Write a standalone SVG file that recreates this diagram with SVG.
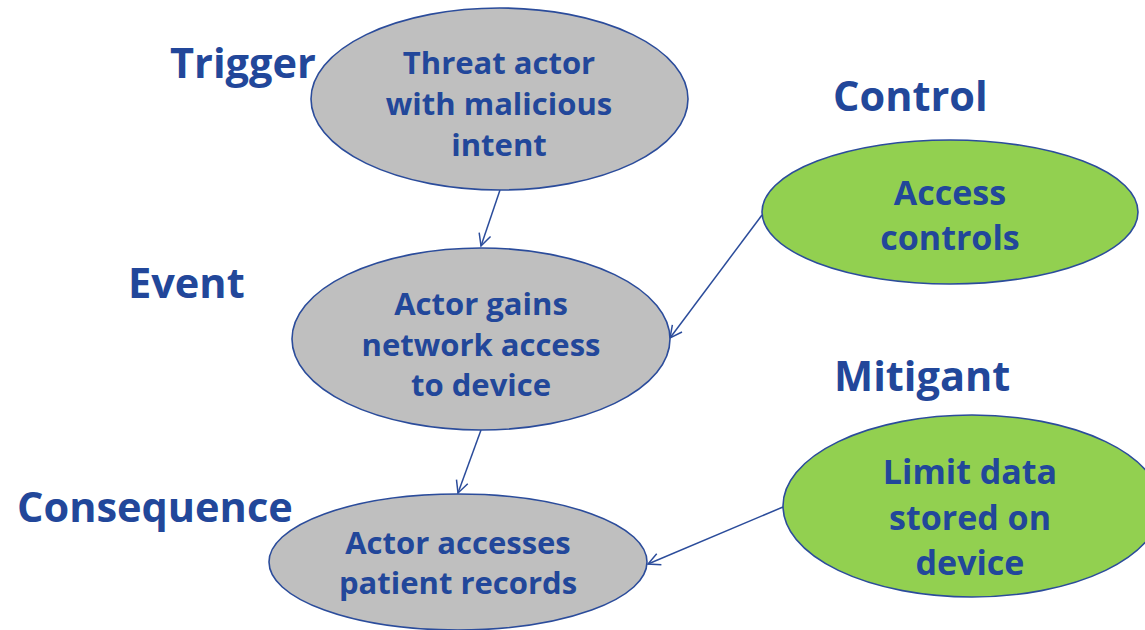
<svg xmlns="http://www.w3.org/2000/svg" width="1145" height="630" viewBox="0 0 1145 630">
<defs>
<style>
.g{fill:#BFBFBF;stroke:#2B4C9B;stroke-width:1.6}
.gr{fill:#92D050;stroke:#2B4C9B;stroke-width:1.6}
.t{font-family:"Open Sans",Lato,sans-serif;font-weight:bold;fill:#22479A;text-anchor:middle}
.n{font-size:31px}
.m{font-size:34px}
.l{font-family:"Open Sans",Lato,sans-serif;font-weight:bold;fill:#22479A;font-size:41.5px}
.c{stroke:#2B4C9B;stroke-width:1.5;fill:none;marker-end:url(#a)}
</style>
<marker id="a" markerWidth="16" markerHeight="16" refX="14" refY="8" orient="auto" markerUnits="userSpaceOnUse">
<path d="M2,2 L14,8 L2,14" fill="none" stroke="#2B4C9B" stroke-width="1.5"/>
</marker>
</defs>
<rect width="1145" height="630" fill="#fff"/>
<g id="labels">
<text class="l" x="170" y="78">Trigger</text>
<text class="l" x="833" y="111">Control</text>
<text class="l" x="128" y="298">Event</text>
<text class="l" x="834" y="391">Mitigant</text>
<text class="l" x="17" y="522">Consequence</text>
</g>
<g id="connectors">
<line class="c" x1="500" y1="190" x2="481" y2="246"/>
<line class="c" x1="762" y1="215" x2="670" y2="338"/>
<line class="c" x1="481" y1="430" x2="458" y2="493"/>
<line class="c" x1="783" y1="507" x2="648" y2="564"/>
</g>
<g id="trigger">
<ellipse class="g" cx="499.5" cy="99" rx="188.5" ry="91"/>
<text class="t n" x="499" y="74">Threat actor</text>
<text class="t n" x="499" y="115">with malicious</text>
<text class="t n" x="499" y="156">intent</text>
</g>
<g id="event">
<ellipse class="g" cx="481" cy="339" rx="189" ry="91"/>
<text class="t n" x="481" y="315">Actor gains</text>
<text class="t n" x="481" y="356">network access</text>
<text class="t n" x="481" y="396">to device</text>
</g>
<g id="consequence">
<ellipse class="g" cx="458" cy="562" rx="189" ry="68"/>
<text class="t n" x="458" y="554">Actor accesses</text>
<text class="t n" x="458" y="594">patient records</text>
</g>
<g id="control">
<ellipse class="gr" cx="950" cy="212" rx="188" ry="72"/>
<text class="t m" x="950" y="205">Access</text>
<text class="t m" x="950" y="250">controls</text>
</g>
<g id="mitigant">
<ellipse class="gr" cx="972" cy="506" rx="189" ry="91"/>
<text class="t m" x="970" y="484">Limit data</text>
<text class="t m" x="970" y="530">stored on</text>
<text class="t m" x="970" y="575">device</text>
</g>
</svg>
